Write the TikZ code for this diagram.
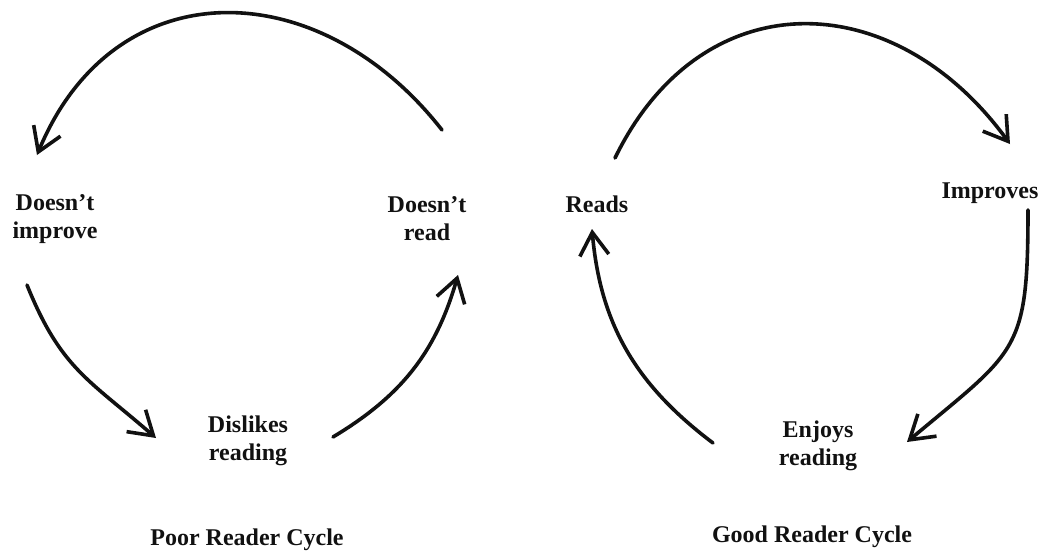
\documentclass[tikz,border=0pt]{standalone}
\usepackage{fontspec}
\setmainfont{Liberation Serif}
\usepackage{xcolor}
\usepackage{tikz}
\usetikzlibrary{arrows.meta,positioning}
\definecolor{Ink}{HTML}{111111}
\tikzset{
  stage/.style={align=center,inner sep=1pt,text=Ink,
                font=\bfseries\fontsize{12}{14}\selectfont},
  cyclename/.style={inner sep=1pt,text=Ink,
                font=\bfseries\fontsize{12}{14}\selectfont},
  cycarrow/.style={-{Straight Barb[length=11.5pt,width=14.5pt]},line width=1.8pt,
                   draw=Ink,line cap=round}
}
\begin{document}
\begin{tikzpicture}[x=0.5pt,y=0.5pt]
  \useasboundingbox (0,0) rectangle (1046,554);

  % poor reader cycle
  \node[stage] (dimp) at (55,335) {Doesn't\\improve};
  \node[stage] (dread) at (427,335) {Doesn't\\read};
  \node[stage] (dlike) at (248,113) {Dislikes\\reading};
  \node[cyclename] (poor) at (247,14) {Poor Reader Cycle};

  \coordinate (p1) at (442,424);
  \coordinate (p2) at (37,399);
  \coordinate (p3) at (27,269);
  \coordinate (p4) at (156,116);
  \coordinate (p5) at (333,117);
  \coordinate (p6) at (458,279);

  \draw[cycarrow] (p1) to[out=128,in=67.5,looseness=1.27] (p2);
  \draw[cycarrow] (p3) to[out=292,in=139,looseness=1.15] (p4);
  \draw[cycarrow] (p5) to[out=31,in=254] (p6);

  % good reader cycle
  \node[stage] (reads) at (597,350) {Reads};
  \node[stage] (impr) at (990,361) {Improves};
  \node[stage] (enjoy) at (818,108) {Enjoys\\reading};
  \node[cyclename] (good) at (812,17) {Good Reader Cycle};

  \coordinate (g1) at (615,396);
  \coordinate (g2) at (1010,410);
  \coordinate (g3) at (1028,344);
  \coordinate (g4) at (907,112);
  \coordinate (g5) at (713,111);
  \coordinate (g6) at (592,325);

  \draw[cycarrow] (g1) to[out=64,in=126,looseness=1.28] (g2);
  \draw[cycarrow] (g3) to[out=270,in=40,looseness=1.4] (g4);
  \draw[cycarrow] (g5) to[out=143,in=275] (g6);
\end{tikzpicture}
\end{document}
